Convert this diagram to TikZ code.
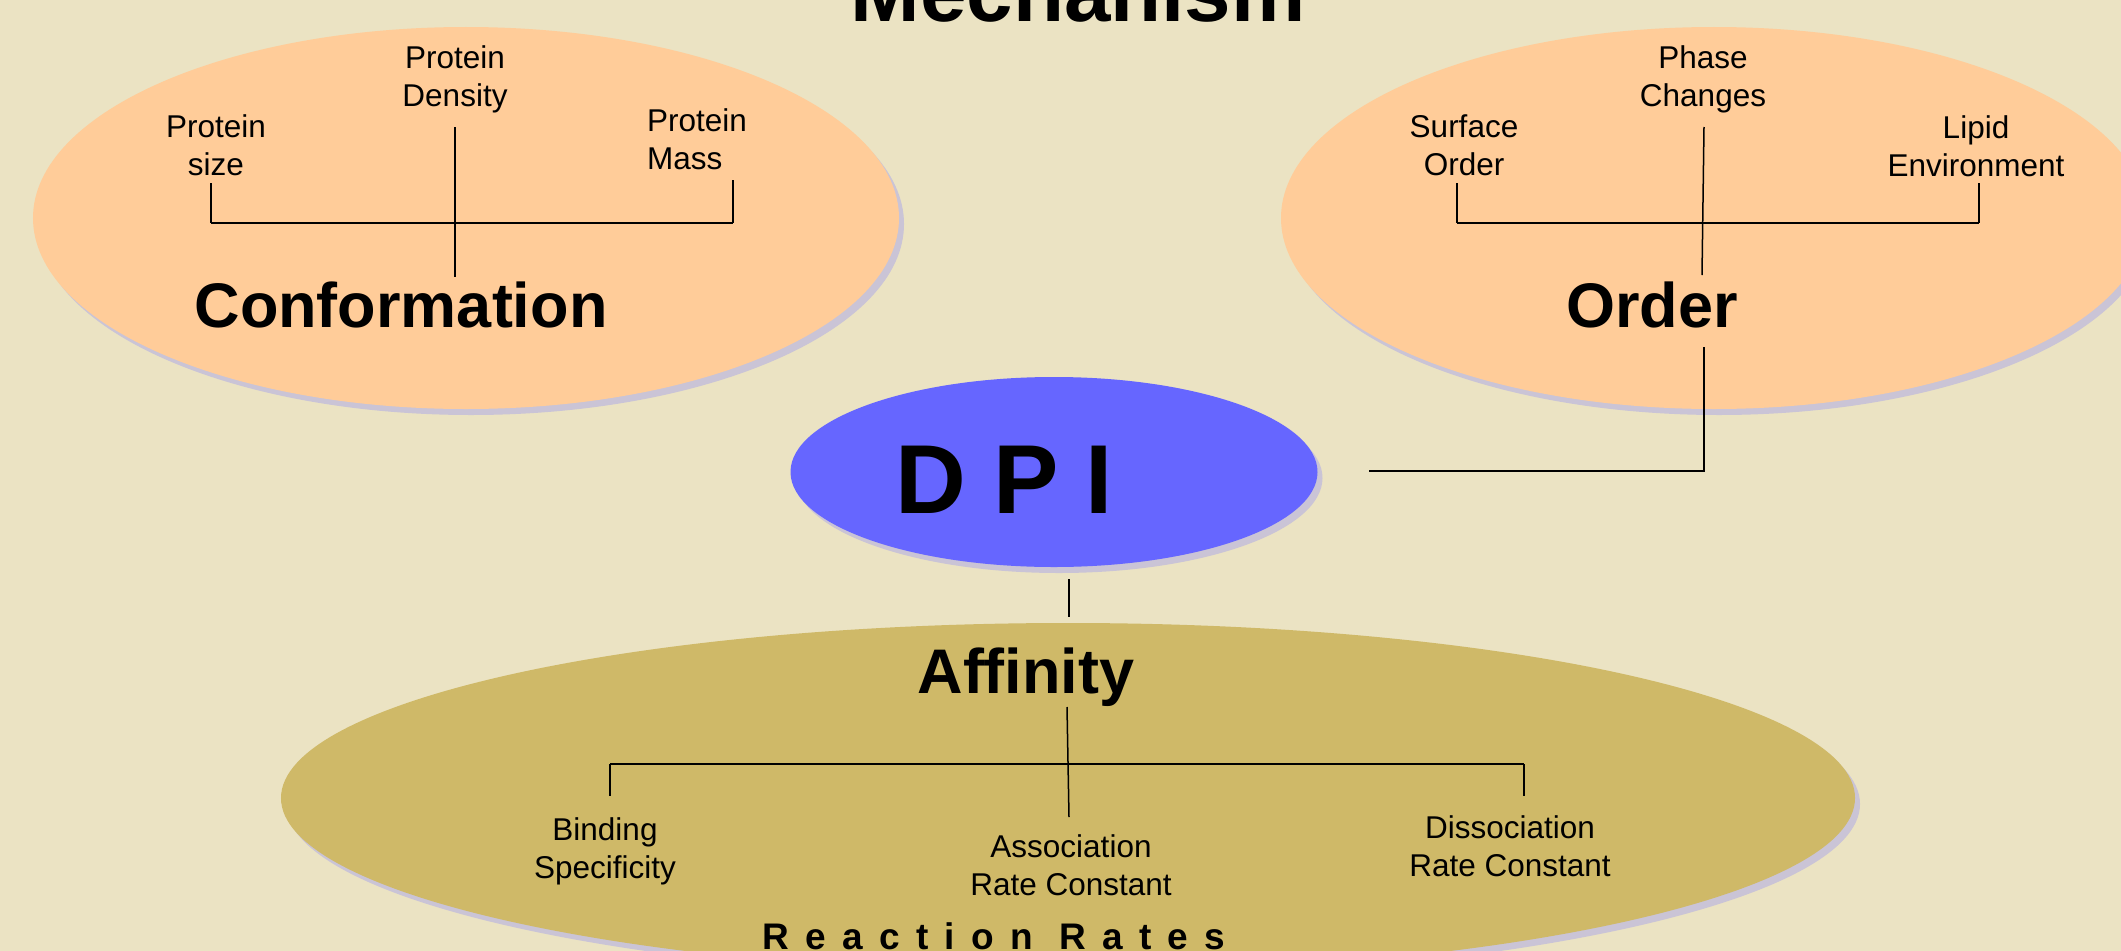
\documentclass[tikz,border=0pt]{standalone}
\usepackage{fontspec}
\setmainfont{Liberation Sans}
\usetikzlibrary{shapes.geometric,shadows}
\definecolor{bgc}{RGB}{235,227,195}
\definecolor{orangec}{RGB}{255,204,153}
\definecolor{bluec}{RGB}{102,102,255}
\definecolor{goldc}{RGB}{207,185,104}
\definecolor{shadowc}{RGB}{202,196,214}
\tikzset{
  blob/.style={ellipse, inner sep=0pt, draw=none,
    drop shadow={shadow xshift=5bp, shadow yshift=-6bp, fill=shadowc, opacity=1}},
  small/.style={font=\fontsize{31.5bp}{38bp}\selectfont, inner sep=0pt, align=center, anchor=base},
  big/.style={font=\fontsize{63bp}{70bp}\selectfont\bfseries, inner sep=0pt, anchor=base},
  link/.style={line width=1.5bp, black},
  bar/.style={line width=2.2bp, black},
}
\begin{document}
\begin{tikzpicture}[x=1bp,y=-1bp]
\useasboundingbox (0,0) rectangle (2121,951);
\clip (0,0) rectangle (2121,951);
\fill[bgc] (0,0) rectangle (2121,951);

% ellipses
\node[blob, fill=orangec, minimum width=866bp, minimum height=382bp] (confE) at (466,218) {};
\node[blob, fill=orangec, minimum width=866bp, minimum height=382bp] (ordE) at (1714,218) {};
\node[blob, fill=bluec, minimum width=527bp, minimum height=190bp] (dpiE) at (1054,472) {};
\node[blob, fill=goldc, minimum width=1574bp, minimum height=350bp] (affE) at (1068,798) {};

% title
\node[font=\fontsize{83.5bp}{90bp}\selectfont\bfseries, inner sep=0pt, anchor=base] (title) at (1078,21) {Mechanism};

% left ellipse texts (base = last line baseline)
\node[small] (psize) at (216,175) {Protein\\size};
\node[small] (pdens) at (455,106) {Protein\\Density};
\node[small, align=left] (pmass) at (697,169) {Protein\\Mass};
\node[big] (conf) at (401,327) {Conformation};

% right ellipse texts
\node[small] (sord) at (1464,175) {Surface\\Order};
\node[small] (phase) at (1703,106) {Phase\\Changes};
\node[small] (lipid) at (1976,176) {Lipid\\Environment};
\node[big] (order) at (1652,327) {Order};

% DPI
\node[font=\fontsize{98bp}{100bp}\selectfont\bfseries, inner sep=0pt, anchor=base] (dpi) at (1004,513) {D P I};

% bottom texts
\node[big] (aff) at (1026,693) {Affinity};
\node[small] (bind) at (605,878) {Binding\\Specificity};
\node[small] (assoc) at (1071,895) {Association\\Rate Constant};
\node[small] (dissoc) at (1510,876) {Dissociation\\Rate Constant};
\node[font=\fontsize{37bp}{40bp}\selectfont\bfseries\addfontfeatures{LetterSpace=44}, inner sep=0pt, anchor=base] (rr) at (994,949) {Reaction Rates};

% connector coordinates
\coordinate (cT) at (455,127); \coordinate (cB) at (455,277);
\coordinate (cL) at (211,223); \coordinate (cR) at (733,223);
\coordinate (cLt) at (211,183); \coordinate (cRt) at (733,180);
\coordinate (oT) at (1704,127); \coordinate (oB) at (1702,275);
\coordinate (oL) at (1457,223); \coordinate (oR) at (1979,223);
\coordinate (oLt) at (1457,183); \coordinate (oRt) at (1979,183);
\coordinate (oDown) at (1704,347); \coordinate (oCorner) at (1704,471); \coordinate (dpiR) at (1369,471);
\coordinate (dT) at (1069,579); \coordinate (dB) at (1069,617);
\coordinate (aT) at (1067,707); \coordinate (aB) at (1069,817);
\coordinate (aL) at (610,764); \coordinate (aR) at (1524,764);
\coordinate (aLb) at (610,796); \coordinate (aRb) at (1524,796);

% left tree
\draw[link] (cT) -- (cB);
\draw[bar] (cL) -- (cR);
\draw[link] (cLt) -- (cL);
\draw[link] (cRt) -- (cR);
% right tree
\draw[link] (oT) -- (oB);
\draw[bar] (oL) -- (oR);
\draw[link] (oLt) -- (oL);
\draw[link] (oRt) -- (oR);
\draw[link] (oDown) -- (oCorner) -- (dpiR);
% DPI to affinity
\draw[link] (dT) -- (dB);
% bottom tree
\draw[link] (aT) -- (aB);
\draw[bar] (aL) -- (aR);
\draw[link] (aL) -- (aLb);
\draw[link] (aR) -- (aRb);
\end{tikzpicture}
\end{document}
